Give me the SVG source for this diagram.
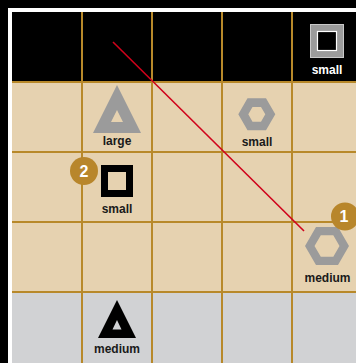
<svg xmlns="http://www.w3.org/2000/svg" width="356" height="363" viewBox="0 0 356 363">
  <style>
    .lbl { font-family: "Liberation Sans", Arial, sans-serif; font-weight: bold; font-size: 12px; text-anchor: middle; fill: #1a1a1a; }
    .lbl-w { fill: #ffffff; }
    .badge circle { fill: #B8862B; }
    .badge text { font-family: "Liberation Sans", Arial, sans-serif; font-weight: bold; font-size: 16px; text-anchor: middle; fill: #ffffff; }
    .grid line { stroke: #B8892A; stroke-width: 2; }
    .gray { fill: #9B9B9B; }
  </style>
  <!-- background and frame -->
  <rect x="0" y="0" width="356" height="363" fill="#000000"/>
  <rect x="8" y="8" width="360" height="360" fill="#ffffff"/>
  <!-- rows -->
  <rect x="12" y="12" width="350" height="70" fill="#000000"/>
  <rect x="12" y="82" width="350" height="210" fill="#E6D2B0"/>
  <rect x="12" y="292" width="350" height="71" fill="#D1D2D4"/>
  <!-- grid lines -->
  <g class="grid">
    <line x1="82" y1="12" x2="82" y2="363"/>
    <line x1="152" y1="12" x2="152" y2="363"/>
    <line x1="222" y1="12" x2="222" y2="363"/>
    <line x1="292" y1="12" x2="292" y2="363"/>
    <line x1="12" y1="82" x2="362" y2="82"/>
    <line x1="12" y1="152" x2="362" y2="152"/>
    <line x1="12" y1="222" x2="362" y2="222"/>
    <line x1="12" y1="292" x2="362" y2="292"/>
  </g>
  <!-- connectors -->
  <g id="connectors">
    <line x1="113" y1="42" x2="304" y2="231" stroke="#D0021B" stroke-width="1.6"/>
  </g>
  <!-- nodes -->
  <g id="node-square-small-gray">
    <rect x="310.5" y="24.5" width="33" height="33" class="gray" stroke="#c9c9c9" stroke-width="1"/>
    <rect x="317.5" y="31.5" width="19" height="19" fill="#000000" stroke="#ffffff" stroke-width="1.2"/>
    <text x="327" y="74" class="lbl lbl-w">small</text>
  </g>
  <g id="node-triangle-large">
    <path d="M117,85 L141,133 L93,133 Z M117,110 L111,122 L123,122 Z" class="gray" fill-rule="evenodd"/>
    <text x="117" y="145" class="lbl">large</text>
  </g>
  <g id="node-hexagon-small">
    <path d="M275.3,114.3 L266,130.3 L247.5,130.3 L238.3,114.3 L247.5,98.3 L266,98.3 Z M265.3,114.3 L261,121.7 L252.5,121.7 L248.3,114.3 L252.5,106.9 L261,106.9 Z" class="gray" fill-rule="evenodd"/>
    <text x="257" y="146" class="lbl">small</text>
  </g>
  <g id="node-square-small-black">
    <path d="M101,165 H133 V197 H101 Z M108,172 V190 H126 V172 Z" fill="#000000" fill-rule="evenodd"/>
    <text x="117" y="212.5" class="lbl">small</text>
  </g>
  <g id="node-hexagon-medium">
    <path d="M349,246 L338,265 L316,265 L305,246 L316,227 L338,227 Z M339.5,246 L333.3,256.7 L320.8,256.7 L314.5,246 L320.8,235.3 L333.3,235.3 Z" class="gray" fill-rule="evenodd"/>
    <text x="327.5" y="282" class="lbl">medium</text>
  </g>
  <g id="node-triangle-medium">
    <path d="M117,300 L136,338 L98,338 Z M117,320 L112.5,329.5 L121.5,329.5 Z" fill="#000000" fill-rule="evenodd"/>
    <text x="117" y="353" class="lbl">medium</text>
  </g>
  <!-- badges -->
  <g id="badge-1" class="badge">
    <circle cx="345" cy="216.5" r="14"/>
    <text x="344" y="222">1</text>
  </g>
  <g id="badge-2" class="badge">
    <circle cx="84" cy="171" r="14"/>
    <text x="84" y="177">2</text>
  </g>
</svg>
